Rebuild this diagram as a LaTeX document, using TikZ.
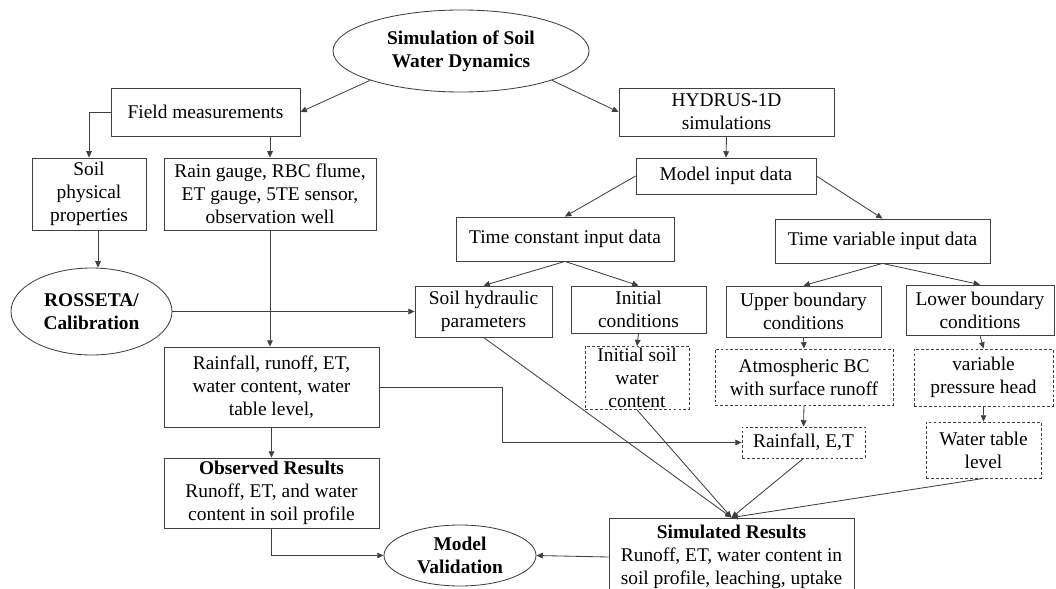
\documentclass[tikz,border=0pt]{standalone}
\usepackage{fontspec}
\setmainfont{Liberation Serif}
\usetikzlibrary{shapes.geometric,arrows.meta}

\def \px {0.025cm}
\def \lineWidth {0.6pt}

\begin{document}
\begin{tikzpicture}[x=\px, y=-\px,
      line width=\lineWidth, draw=black!75,
      >={Triangle[length=4.5pt,width=4pt]},
      box/.style={draw, rectangle, align=center, inner sep=1pt, font=\fontsize{13.8}{16.5}\selectfont},
      dbox/.style={box, dash pattern=on 2pt off 1.5pt},
      oval/.style={draw, ellipse, align=center, inner sep=0pt, font=\fontsize{13.8}{16.5}\selectfont\bfseries}]
         \useasboundingbox (0,0) rectangle (1056,589);
         \node[oval, minimum width=256*\px, minimum height=82*\px] (sim) at (461, 51) {Simulation of Soil\\Water Dynamics};
         \node[box, minimum width=189*\px, minimum height=48*\px] (field) at (205.5, 112) {Field measurements};
         \node[box, minimum width=215*\px, minimum height=48*\px] (hydrus) at (726.5, 112) {HYDRUS-1D\\simulations};
         \node[box, minimum width=180*\px, minimum height=36*\px] (input) at (726, 176) {Model input data};
         \node[box, minimum width=114*\px, minimum height=72*\px] (phys) at (89, 194) {Soil\\physical\\properties};
         \node[box, minimum width=212*\px, minimum height=72*\px] (gauge) at (270, 194) {Rain gauge, RBC flume,\\ET gauge, 5TE sensor,\\observation well};
         \node[box, minimum width=218*\px, minimum height=44*\px] (tconst) at (565, 239) {Time constant input data};
         \node[box, minimum width=215*\px, minimum height=44*\px] (tvar) at (882.5, 241) {Time variable input data};
         \node[oval, minimum width=161*\px, minimum height=87*\px] (rosseta) at (91.5, 311.5) {ROSSETA/\\Calibration};
         \node[box, minimum width=137*\px, minimum height=51*\px] (hydraulic) at (483.5, 311.5) {Soil hydraulic\\parameters};
         \node[box, minimum width=135*\px, minimum height=47*\px] (initc) at (638.5, 309.5) {Initial\\conditions};
         \node[box, minimum width=155*\px, minimum height=51*\px] (upper) at (803.5, 311.5) {Upper boundary\\conditions};
         \node[box, minimum width=148*\px, minimum height=50*\px] (lower) at (980, 310) {Lower boundary\\conditions};
         \node[dbox, minimum width=104*\px, minimum height=62*\px] (initsoil) at (637, 378) {Initial soil\\water\\content};
         \node[dbox, minimum width=178*\px, minimum height=56*\px] (atmos) at (804, 377) {Atmospheric BC\\with surface runoff};
         \node[dbox, minimum width=139*\px, minimum height=57*\px] (pressure) at (983.5, 377.5) {variable\\pressure head};
         \node[dbox, minimum width=123*\px, minimum height=31*\px] (rain) at (803.5, 442.5) {Rainfall, E,T};
         \node[dbox, minimum width=115*\px, minimum height=56*\px] (wtable) at (983.5, 450) {Water table\\level};
         \node[box, minimum width=215*\px, minimum height=80*\px] (measured) at (271.5, 387) {Rainfall, runoff, ET,\\water content, water\\table level,};
         \node[box, minimum width=215*\px, minimum height=70*\px] (observed) at (271.5, 493) {\textbf{Observed Results}\\Runoff, ET, and water\\content in soil profile};
         \node[oval, minimum width=152*\px, minimum height=61*\px] (validation) at (460, 555.5) {Model\\Validation};
         \node[box, minimum width=245*\px, minimum height=78*\px] (simulated) at (731.5, 557) {\textbf{Simulated Results}\\Runoff, ET, water content in\\soil profile, leaching, uptake};

         \draw[->] (sim.south west) -- (field.east);
         \draw[->] (sim.south east) -- (hydrus.west);
         \draw[->] (field.west) -| (phys.north);
         \draw[->] (gauge.north |- field.south) -- (gauge.north);
         \draw[->] ([xshift=9*\px]phys.south) -- ([xshift=9*\px]phys.south |- rosseta.north);
         \draw[->] (gauge.south) -- (gauge.south |- measured.north);
         \draw[->] (rosseta.east) -- (hydraulic.west);
         \draw[->] (hydrus.south) -- (input.north);
         \draw[->] (input.west) -- (tconst.north);
         \draw[->] (input.east) -- (tvar.north);
         \draw[->] (tconst.south) -- (hydraulic.north);
         \draw[->] (tconst.south) -- (initc.north);
         \draw[->] (tvar.south) -- (upper.north);
         \draw[->] (tvar.south) -- (lower.north);
         \draw[->] (initc.south) -- (initsoil.north);
         \draw[->] (upper.south) -- (atmos.north);
         \draw[->] (atmos.south) -- (rain.north);
         \draw[->] (lower.south) -- (pressure.north);
         \draw[->] (pressure.south) -- (wtable.north);
         \draw[->] (measured.east) -- ++(123,0) |- (rain.west);
         \draw[->] (measured.south) -- (observed.north);
         \draw[->] (observed.south) |- (validation.west);
         \draw[->] (simulated.west) -- (validation.east);
         \draw[->] (hydraulic.south) -- (simulated.north);
         \draw[->] (initsoil.south) -- (simulated.north);
         \draw[->] (rain.south) -- (simulated.north);
         \draw[->] (wtable.south) -- (simulated.north);
      \end{tikzpicture}
\end{document}
